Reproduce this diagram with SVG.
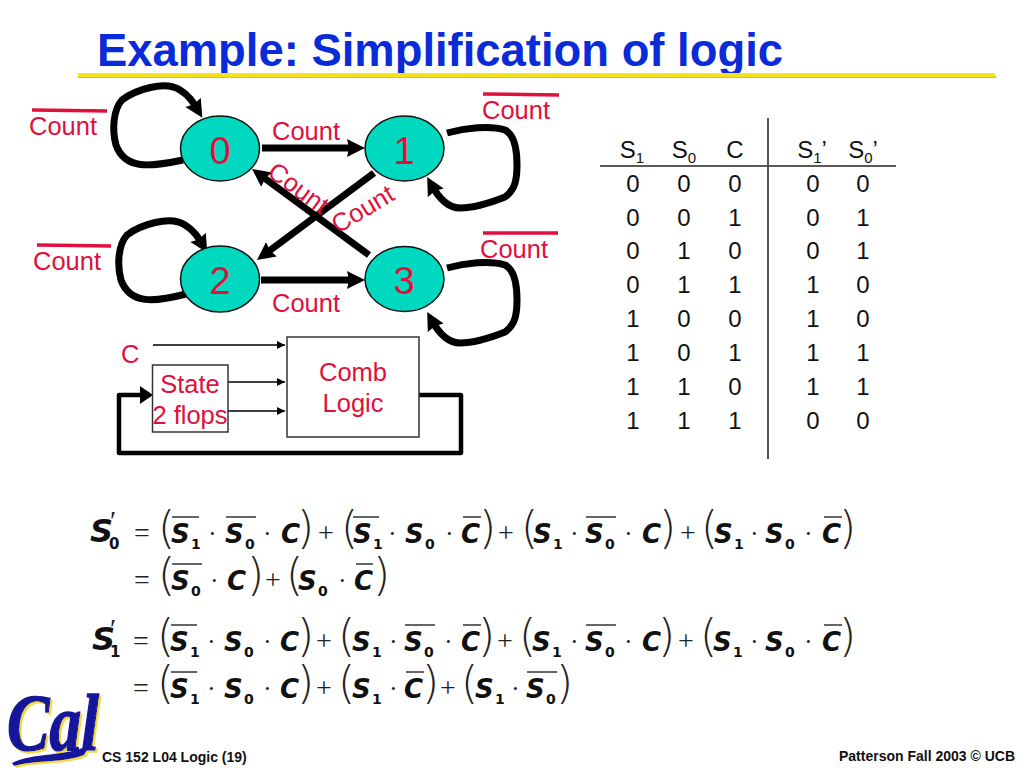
<svg xmlns="http://www.w3.org/2000/svg" width="1024" height="768" viewBox="0 0 1024 768">
<style>
text{font-family:"Liberation Sans",Arial,sans-serif}
.title{font-size:45.4px;font-weight:bold;fill:#0a2cd8}
.r{fill:#e0103c;font-size:25.5px}
.m{text-anchor:middle}
.d{fill:#e0103c;font-size:38px;text-anchor:middle}
.n{fill:#00d8c0;stroke:#111;stroke-width:1.5}
.e{fill:none;stroke:#000;stroke-width:7}
.a{marker-end:url(#h)}
.o{stroke:#e0103c;stroke-width:3.5}
.b{fill:#fff;stroke:#333;stroke-width:1.5}
.t{fill:none;stroke:#000;stroke-width:1.5;marker-end:url(#s)}
.k{fill:#111;font-size:24px;text-anchor:middle}
.kb{font-size:15px}
.f{font-size:14px;font-weight:bold;fill:#111}
.v{font-family:"DejaVu Sans",sans-serif;font-size:26px;font-weight:bold;font-style:oblique;fill:#111}
.u{font-family:"DejaVu Sans",sans-serif;font-size:14px;font-weight:bold;fill:#111}
.y{font-family:"Liberation Serif",serif;font-size:28px;fill:#222;transform:translateY(-2px)}
.w{font-family:"Liberation Serif",serif;font-size:26px;fill:#222}
.p{font-family:"DejaVu Sans",sans-serif;font-weight:200;font-size:44px;fill:#222}
.l{stroke:#333;stroke-width:1.5}
</style>
<defs>
<marker id="h" markerUnits="userSpaceOnUse" markerWidth="20" markerHeight="20" refX="10" refY="10" orient="auto"><path d="M0,1 L18,10 L0,19 L2,10 Z" fill="#000"/></marker>
<marker id="s" markerUnits="userSpaceOnUse" markerWidth="10" markerHeight="10" refX="8" refY="4" orient="auto"><path d="M0,0 L8,4 L0,8 Z" fill="#000"/></marker>
<filter id="sh" x="-10%" y="-10%" width="120%" height="120%"><feDropShadow dx="2" dy="2" stdDeviation="0.5" flood-color="#f2dc40"/></filter>
</defs>
<rect width="1024" height="768" fill="#fff"/>
<text class="title" x="97" y="66">Example: Simplification of logic</text>
<line x1="78" y1="77" x2="996" y2="77" stroke="#b9b9a0" stroke-width="2"/>
<line x1="78" y1="75" x2="995" y2="75" stroke="#f5e11c" stroke-width="4"/>

<g id="connectors">
<path class="e a" d="M262,148 H357"/>
<path class="e a" d="M261,280 H357"/>
<path class="e a" d="M369,255 L258.500,173.700"/>
<path class="e a" d="M374,173 L263.400,255.200"/>
<path class="e a" d="M183,160 C150,167 125,170 116,145 C112,130 113,110 122,100 C135,90 165,80 180,90 C190,96 194,104 198.200,111"/>
<path class="e a" d="M186,294 C155,302 130,305 121,280 C117,265 118,245 127,235 C140,225 170,215 185,225 C195,231 199,239 203.200,246"/>
<path class="e a" d="M447,133 C465,128 490,125 505,130 C515,135 517,150 517,165 C517,180 515,190 505,197 C490,203 475,208 460,208 C447,208 438,197 431,184"/>
<path class="e a" d="M447,268 C465,263 490,260 505,265 C515,270 517,285 517,300 C517,315 515,325 505,332 C490,338 475,343 460,343 C447,343 438,332 431,319"/>
<line class="t" x1="153" y1="345" x2="285" y2="345"/>
<line class="t" x1="228" y1="382" x2="285" y2="382"/>
<line class="t" x1="228" y1="411" x2="285" y2="411"/>
<path fill="none" stroke="#000" stroke-width="4.500" stroke-linejoin="round" d="M419,395 H461 V453 H119 V395 H140"/>
<path d="M140,386 L153,395 L140,404 Z" fill="#000"/>
</g>

<g id="node-0"><ellipse class="n" cx="220" cy="148.500" rx="39.500" ry="32.500"/><text class="d" x="220" y="164">0</text></g>
<g id="node-1"><ellipse class="n" cx="404.500" cy="148.500" rx="39.500" ry="32.500"/><text class="d" x="404" y="164">1</text></g>
<g id="node-2"><ellipse class="n" cx="220" cy="279" rx="39.500" ry="33"/><text class="d" x="220" y="294">2</text></g>
<g id="node-3"><ellipse class="n" cx="404.500" cy="279" rx="39.500" ry="32.500"/><text class="d" x="404" y="294">3</text></g>

<g id="labels">
<line class="o" x1="32" y1="110" x2="107" y2="111"/>
<line class="o" x1="37" y1="245" x2="111" y2="246"/>
<line class="o" x1="483" y1="94" x2="559" y2="95"/>
<line class="o" x1="483" y1="233" x2="558" y2="233"/>
<text class="r" x="29" y="135">Count</text>
<text class="r" x="33" y="270">Count</text>
<text class="r" x="482" y="119">Count</text>
<text class="r" x="480" y="258">Count</text>
<text class="r" x="272" y="140">Count</text>
<text class="r" x="272" y="312">Count</text>
<text class="r" transform="translate(266,175) rotate(36)">Count</text>
<text class="r" transform="translate(338,234) rotate(-31)">Count</text>
</g>

<g id="comb-logic"><rect class="b" x="287" y="337" width="132" height="100"/><text class="r m" x="353" y="381">Comb</text><text class="r m" x="353" y="412">Logic</text></g>
<g id="state"><rect class="b" x="152.500" y="365" width="75.500" height="67"/><text class="r m" x="190" y="393">State</text><text class="r m" x="190" y="424">2 flops</text></g>
<text class="r" x="121" y="363">C</text>

<g id="table">
<line x1="600" y1="166" x2="896" y2="166" stroke="#222" stroke-width="1.500"/>
<line x1="768" y1="118" x2="768" y2="459" stroke="#555" stroke-width="2"/>
<text class="k" x="632" y="158">S<tspan class="kb" dy="5">1</tspan></text>
<text class="k" x="684" y="158">S<tspan class="kb" dy="5">0</tspan></text>
<text class="k" x="735" y="158">C</text>
<text class="k" x="812" y="158">S<tspan class="kb" dy="5">1</tspan><tspan dy="-5">’</tspan></text>
<text class="k" x="863" y="158">S<tspan class="kb" dy="5">0</tspan><tspan dy="-5">’</tspan></text>
<g>
<text class="k" x="633" y="192">0</text><text class="k" x="684" y="192">0</text><text class="k" x="735" y="192">0</text><text class="k" x="813" y="192">0</text><text class="k" x="863" y="192">0</text>
<text class="k" x="633" y="226">0</text><text class="k" x="684" y="226">0</text><text class="k" x="735" y="226">1</text><text class="k" x="813" y="226">0</text><text class="k" x="863" y="226">1</text>
<text class="k" x="633" y="259">0</text><text class="k" x="684" y="259">1</text><text class="k" x="735" y="259">0</text><text class="k" x="813" y="259">0</text><text class="k" x="863" y="259">1</text>
<text class="k" x="633" y="293">0</text><text class="k" x="684" y="293">1</text><text class="k" x="735" y="293">1</text><text class="k" x="813" y="293">1</text><text class="k" x="863" y="293">0</text>
<text class="k" x="633" y="327">1</text><text class="k" x="684" y="327">0</text><text class="k" x="735" y="327">0</text><text class="k" x="813" y="327">1</text><text class="k" x="863" y="327">0</text>
<text class="k" x="633" y="361">1</text><text class="k" x="684" y="361">0</text><text class="k" x="735" y="361">1</text><text class="k" x="813" y="361">1</text><text class="k" x="863" y="361">1</text>
<text class="k" x="633" y="395">1</text><text class="k" x="684" y="395">1</text><text class="k" x="735" y="395">0</text><text class="k" x="813" y="395">1</text><text class="k" x="863" y="395">1</text>
<text class="k" x="633" y="429">1</text><text class="k" x="684" y="429">1</text><text class="k" x="735" y="429">1</text><text class="k" x="813" y="429">0</text><text class="k" x="863" y="429">0</text>
</g>
</g>

<g id="equations">
<text class="v" x="90" y="542" style="font-size:32px">S</text><text class="u" x="109" y="549" style="font-size:15px">0</text><text class="y" x="110" y="532">′</text>
<text class="y" x="134" y="544">=</text>
<text class="p" x="158" y="543">(</text><text class="v" x="171" y="543">S</text><text class="u" x="191" y="549">1</text><line class="l" x1="172" y1="517" x2="199" y2="517"/>
<text class="w" x="208" y="542">·</text><text class="v" x="225" y="543">S</text><text class="u" x="245" y="549">0</text><line class="l" x1="226" y1="517" x2="256" y2="517"/>
<text class="w" x="263" y="542">·</text><text class="v" x="281" y="543">C</text><text class="p" x="297" y="543">)</text>
<text class="y" x="318" y="544">+</text>
<text class="p" x="341" y="543">(</text><text class="v" x="353" y="543">S</text><text class="u" x="373" y="549">1</text><line class="l" x1="353" y1="517" x2="379" y2="517"/>
<text class="w" x="388" y="542">·</text><text class="v" x="405" y="543">S</text><text class="u" x="425" y="549">0</text>
<text class="w" x="445" y="542">·</text><text class="v" x="461" y="543">C</text><line class="l" x1="463" y1="517" x2="481" y2="517"/><text class="p" x="479" y="543">)</text>
<text class="y" x="498" y="544">+</text>
<text class="p" x="521" y="543">(</text><text class="v" x="533" y="543">S</text><text class="u" x="553" y="549">1</text>
<text class="w" x="570" y="542">·</text><text class="v" x="585" y="543">S</text><text class="u" x="605" y="549">0</text><line class="l" x1="586" y1="517" x2="616" y2="517"/>
<text class="w" x="624" y="542">·</text><text class="v" x="642" y="543">C</text><text class="p" x="659" y="543">)</text>
<text class="y" x="680" y="544">+</text>
<text class="p" x="701" y="543">(</text><text class="v" x="714" y="543">S</text><text class="u" x="734" y="549">1</text>
<text class="w" x="750" y="542">·</text><text class="v" x="765" y="543">S</text><text class="u" x="785" y="549">0</text>
<text class="w" x="804" y="542">·</text><text class="v" x="822" y="543">C</text><line class="l" x1="824" y1="517" x2="842" y2="517"/><text class="p" x="839" y="543">)</text>

<text class="y" x="134" y="591">=</text>
<text class="p" x="158" y="590">(</text><text class="v" x="171" y="590">S</text><text class="u" x="191" y="596">0</text><line class="l" x1="172" y1="564" x2="202" y2="564"/>
<text class="w" x="210" y="589">·</text><text class="v" x="227" y="590">C</text><text class="p" x="247" y="590">)</text>
<text class="y" x="265" y="591">+</text>
<text class="p" x="286" y="590">(</text><text class="v" x="298" y="590">S</text><text class="u" x="318" y="596">0</text>
<text class="w" x="338" y="589">·</text><text class="v" x="354" y="590">C</text><line class="l" x1="356" y1="564" x2="373" y2="564"/><text class="p" x="373" y="590">)</text>

<text class="v" x="92" y="650" style="font-size:32px">S</text><text class="u" x="110" y="657" style="font-size:15px">1</text><text class="y" x="110" y="640">′</text>
<text class="y" x="133" y="652">=</text>
<text class="p" x="157" y="651">(</text><text class="v" x="170" y="651">S</text><text class="u" x="190" y="657">1</text><line class="l" x1="171" y1="625" x2="197" y2="625"/>
<text class="w" x="207" y="650">·</text><text class="v" x="224" y="651">S</text><text class="u" x="244" y="657">0</text>
<text class="w" x="263" y="650">·</text><text class="v" x="280" y="651">C</text><text class="p" x="297" y="651">)</text>
<text class="y" x="316" y="652">+</text>
<text class="p" x="338" y="651">(</text><text class="v" x="352" y="651">S</text><text class="u" x="372" y="657">1</text>
<text class="w" x="389" y="650">·</text><text class="v" x="404" y="651">S</text><text class="u" x="424" y="657">0</text><line class="l" x1="405" y1="625" x2="435" y2="625"/>
<text class="w" x="444" y="650">·</text><text class="v" x="461" y="651">C</text><line class="l" x1="463" y1="625" x2="481" y2="625"/><text class="p" x="478" y="651">)</text>
<text class="y" x="497" y="652">+</text>
<text class="p" x="519" y="651">(</text><text class="v" x="532" y="651">S</text><text class="u" x="552" y="657">1</text>
<text class="w" x="570" y="650">·</text><text class="v" x="585" y="651">S</text><text class="u" x="605" y="657">0</text><line class="l" x1="586" y1="625" x2="616" y2="625"/>
<text class="w" x="624" y="650">·</text><text class="v" x="642" y="651">C</text><text class="p" x="658" y="651">)</text>
<text class="y" x="678" y="652">+</text>
<text class="p" x="700" y="651">(</text><text class="v" x="713" y="651">S</text><text class="u" x="733" y="657">1</text>
<text class="w" x="750" y="650">·</text><text class="v" x="765" y="651">S</text><text class="u" x="785" y="657">0</text>
<text class="w" x="804" y="650">·</text><text class="v" x="822" y="651">C</text><line class="l" x1="824" y1="625" x2="842" y2="625"/><text class="p" x="839" y="651">)</text>

<text class="y" x="133" y="699">=</text>
<text class="p" x="157" y="698">(</text><text class="v" x="170" y="698">S</text><text class="u" x="190" y="704">1</text><line class="l" x1="171" y1="672" x2="197" y2="672"/>
<text class="w" x="207" y="697">·</text><text class="v" x="224" y="698">S</text><text class="u" x="244" y="704">0</text>
<text class="w" x="263" y="697">·</text><text class="v" x="280" y="698">C</text><text class="p" x="297" y="698">)</text>
<text class="y" x="316" y="699">+</text>
<text class="p" x="338" y="698">(</text><text class="v" x="352" y="698">S</text><text class="u" x="372" y="704">1</text>
<text class="w" x="389" y="697">·</text><text class="v" x="404" y="698">C</text><line class="l" x1="406" y1="672" x2="424" y2="672"/><text class="p" x="422" y="698">)</text>
<text class="y" x="440" y="699">+</text>
<text class="p" x="461" y="698">(</text><text class="v" x="475" y="698">S</text><text class="u" x="495" y="704">1</text>
<text class="w" x="511" y="697">·</text><text class="v" x="526" y="698">S</text><text class="u" x="546" y="704">0</text><line class="l" x1="527" y1="672" x2="557" y2="672"/><text class="p" x="556" y="698">)</text>
</g>

<g id="logo" filter="url(#sh)">
<text x="7" y="750" stroke="#14149a" stroke-width="1.500" style="font-family:'Liberation Serif',serif;font-size:80px;font-weight:bold;font-style:italic;fill:#14149a" textLength="92" lengthAdjust="spacingAndGlyphs">Cal</text>
<path d="M12,763 C35,752 65,757 90,745 L84,755 C65,763 35,760 14,766 Z" fill="#14149a"/>
</g>
<text class="f" x="102" y="762">CS 152 L04 Logic (19)</text>
<text class="f" x="839" y="761">Patterson Fall 2003 © UCB</text>
</svg>
